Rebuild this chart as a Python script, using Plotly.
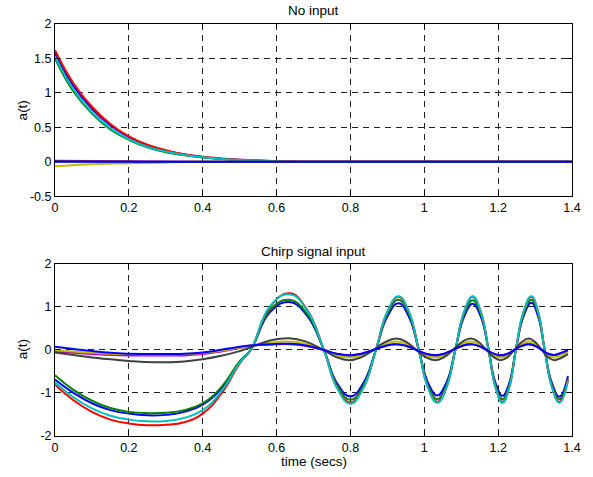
import plotly.graph_objects as go

# ---------------- data: top panel (No input) ----------------
t_top = [0, 0.05, 0.1, 0.15, 0.2, 0.25, 0.3, 0.35, 0.4, 0.45, 0.5, 0.6, 0.7, 1.4]
top_b1 = [1.58, 1.1, 0.77, 0.53, 0.36, 0.24, 0.16, 0.105, 0.07, 0.045, 0.03, 0.01, 0.0, 0.0]
top_g = [1.5, 1.02, 0.7, 0.47, 0.32, 0.21, 0.14, 0.095, 0.062, 0.04, 0.026, 0.01, 0.0, 0.0]
top_r = [1.62, 1.14, 0.8, 0.55, 0.37, 0.25, 0.17, 0.11, 0.075, 0.05, 0.03, 0.01, 0.0, 0.0]
top_c = [1.53, 1.05, 0.72, 0.49, 0.33, 0.22, 0.15, 0.1, 0.065, 0.042, 0.027, 0.01, 0.0, 0.0]

t_top_small = [0, 0.1, 0.2, 0.28, 0.4, 1.4]
top_m = [0.015, 0.012, 0.008, 0.005, 0.0, 0.0]
top_y = [-0.065, -0.035, -0.022, -0.012, 0.0, 0.0]
top_k = [0.008, 0.006, 0.004, 0.002, 0.0, 0.0]
top_b2 = [0.0, 0.0, 0.0, 0.0, 0.0, 0.0]

# ---------------- data: bottom panel (Chirp signal input) ----------------
t_big = [0, 0.05, 0.1, 0.15, 0.2, 0.25, 0.3, 0.35, 0.4, 0.45, 0.5,
         0.53, 0.583, 0.635, 0.682,
         0.728, 0.764, 0.8, 0.835,
         0.869, 0.9, 0.93, 0.958,
         0.985, 1.01, 1.035, 1.06,
         1.084, 1.108, 1.131, 1.153,
         1.174, 1.193, 1.212, 1.23,
         1.248, 1.269, 1.29, 1.308,
         1.326, 1.346, 1.366, 1.389]
bot_b1 = [-0.69, -1.0, -1.24, -1.4, -1.48, -1.52, -1.51, -1.44, -1.27, -0.9, -0.28,
          0.0, 0.88, 1.11, 0.8,
          0.0, -0.78, -1.08, -0.77,
          0.0, 0.77, 1.08, 0.77,
          0.0, -0.76, -1.06, -0.76,
          0.0, 0.77, 1.07, 0.77,
          0.0, -0.77, -1.07, -0.77,
          0.0, 0.78, 1.09, 0.78,
          0.0, -0.78, -1.09, -0.61]
bot_g = [-0.59, -0.93, -1.18, -1.35, -1.44, -1.47, -1.46, -1.4, -1.24, -0.87, -0.27,
         0.0, 0.93, 1.16, 0.84,
         0.0, -0.83, -1.16, -0.83,
         0.0, 0.83, 1.16, 0.83,
         0.0, -0.83, -1.15, -0.83,
         0.0, 0.83, 1.15, 0.83,
         0.0, -0.83, -1.15, -0.83,
         0.0, 0.83, 1.16, 0.83,
         0.0, -0.83, -1.15, -0.66]
bot_r = [-0.81, -1.17, -1.44, -1.62, -1.71, -1.75, -1.74, -1.68, -1.48, -1.02, -0.32,
         0.0, 1.0, 1.31, 0.94,
         0.0, -0.88, -1.22, -0.88,
         0.0, 0.88, 1.23, 0.88,
         0.0, -0.87, -1.21, -0.87,
         0.0, 0.88, 1.23, 0.88,
         0.0, -0.87, -1.21, -0.87,
         0.0, 0.88, 1.23, 0.88,
         0.0, -0.87, -1.21, -0.7]
bot_c = [-0.75, -1.1, -1.36, -1.53, -1.62, -1.66, -1.65, -1.58, -1.4, -0.97, -0.3,
         0.0, 1.02, 1.29, 0.92,
         0.0, -0.89, -1.25, -0.89,
         0.0, 0.89, 1.24, 0.89,
         0.0, -0.88, -1.23, -0.88,
         0.0, 0.89, 1.24, 0.89,
         0.0, -0.88, -1.23, -0.88,
         0.0, 0.89, 1.24, 0.89,
         0.0, -0.88, -1.23, -0.72]

t_small = [0, 0.05, 0.1, 0.15, 0.2, 0.27, 0.35, 0.4, 0.45, 0.5, 0.53,
           0.58, 0.635, 0.68,
           0.726, 0.762, 0.797, 0.83,
           0.863, 0.894, 0.925, 0.952,
           0.978, 1.004, 1.03, 1.054,
           1.078, 1.102, 1.126, 1.147,
           1.168, 1.188, 1.207, 1.226,
           1.244, 1.264, 1.283, 1.3,
           1.318, 1.335, 1.352, 1.37,
           1.389]
bot_m = [-0.04, -0.07, -0.1, -0.12, -0.13, -0.13, -0.13, -0.1, -0.04, 0.04, 0.1,
         0.12, 0.13, 0.09,
         0.0, -0.09, -0.12, -0.09,
         0.0, 0.09, 0.13, 0.09,
         0.0, -0.09, -0.12, -0.09,
         0.0, 0.09, 0.13, 0.09,
         0.0, -0.09, -0.12, -0.09,
         0.0, 0.09, 0.13, 0.09,
         0.0, -0.09, -0.12, -0.08,
         -0.03]
bot_y = [-0.01, -0.04, -0.07, -0.09, -0.1, -0.11, -0.1, -0.07, -0.02, 0.05, 0.1,
         0.16, 0.19, 0.14,
         0.0, -0.13, -0.18, -0.13,
         0.0, 0.13, 0.19, 0.13,
         0.0, -0.13, -0.18, -0.13,
         0.0, 0.13, 0.19, 0.13,
         0.0, -0.13, -0.18, -0.13,
         0.0, 0.13, 0.19, 0.13,
         0.0, -0.13, -0.18, -0.13,
         -0.06]
bot_k = [-0.06, -0.12, -0.18, -0.22, -0.26, -0.29, -0.27, -0.22, -0.14, -0.03, 0.06,
         0.21, 0.27, 0.19,
         0.0, -0.17, -0.24, -0.17,
         0.0, 0.18, 0.26, 0.18,
         0.0, -0.17, -0.24, -0.17,
         0.0, 0.18, 0.26, 0.18,
         0.0, -0.17, -0.24, -0.17,
         0.0, 0.18, 0.26, 0.18,
         0.0, -0.17, -0.24, -0.19,
         -0.1]
bot_b2 = [0.07, 0.02, -0.03, -0.07, -0.09, -0.1, -0.09, -0.06, 0.0, 0.07, 0.1,
          0.13, 0.14, 0.1,
          0.0, -0.09, -0.13, -0.09,
          0.0, 0.09, 0.13, 0.09,
          0.0, -0.09, -0.13, -0.09,
          0.0, 0.09, 0.13, 0.09,
          0.0, -0.09, -0.13, -0.09,
          0.0, 0.09, 0.13, 0.09,
          0.0, -0.09, -0.12, -0.07,
          0.0]

x_ticks = [0, 0.2, 0.4, 0.6, 0.8, 1.0, 1.2, 1.4]
x_tick_text = ["0", "0.2", "0.4", "0.6", "0.8", "1", "1.2", "1.4"]
top_y_ticks = [-0.5, 0, 0.5, 1, 1.5, 2]
top_y_text = ["-0.5", "0", "0.5", "1", "1.5", "2"]
bot_y_ticks = [-2, -1, 0, 1, 2]
bot_y_text = ["-2", "-1", "0", "1", "2"]

# MATLAB default colour order
C_B = "#0000FF"
C_G = "#008000"
C_R = "#FF0000"
C_C = "#00BFBF"
C_M = "#BF00BF"
C_Y = "#BFBF00"
C_K = "#404040"

fig = go.Figure()


def add(x, y, color, ax):
    xa, ya = ("x", "y") if ax == 1 else ("x2", "y2")
    fig.add_trace(go.Scatter(x=x, y=y, mode="lines", xaxis=xa, yaxis=ya,
                             line=dict(color=color, width=2, shape="spline", smoothing=1.3),
                             showlegend=False, hoverinfo="skip"))


# top panel
add(t_top, top_b1, C_B, 1)
add(t_top, top_g, C_G, 1)
add(t_top, top_r, C_R, 1)
add(t_top, top_c, C_C, 1)
add(t_top_small, top_m, C_M, 1)
add(t_top_small, top_y, C_Y, 1)
add(t_top_small, top_k, C_K, 1)
add(t_top_small, top_b2, C_B, 1)

# bottom panel
add(t_big, bot_b1, C_B, 2)
add(t_big, bot_g, C_G, 2)
add(t_big, bot_r, C_R, 2)
add(t_big, bot_c, C_C, 2)
add(t_small, bot_m, C_M, 2)
add(t_small, bot_y, C_Y, 2)
add(t_small, bot_k, C_K, 2)
add(t_small, bot_b2, C_B, 2)

TICK_FONT = 12.5
LABEL_FONT = 13.5

axis_common = dict(showline=True, linecolor="black", linewidth=1, mirror="ticks",
                   ticks="inside", ticklen=5, tickcolor="black", tickwidth=1,
                   showgrid=True, gridcolor="#202020", gridwidth=1, griddash="6px,5px",
                   zeroline=False, tickfont=dict(size=TICK_FONT, color="black"))

fig.update_layout(
    width=593, height=477,
    margin=dict(l=55, r=17, t=24, b=41),
    paper_bgcolor="white", plot_bgcolor="white",
    font=dict(family="Liberation Sans, Arial, sans-serif", size=LABEL_FONT, color="black"),
    xaxis=dict(domain=[0, 1], anchor="y", range=[0, 1.4], tickvals=x_ticks,
               ticktext=x_tick_text, **axis_common),
    yaxis=dict(domain=[0.5818, 1], anchor="x", range=[-0.5, 2], tickvals=top_y_ticks,
               ticktext=top_y_text, **axis_common),
    xaxis2=dict(domain=[0, 1], anchor="y2", range=[0, 1.4], tickvals=x_ticks,
                ticktext=x_tick_text, **axis_common),
    yaxis2=dict(domain=[0, 0.4184], anchor="x2", range=[-2, 2], tickvals=bot_y_ticks,
                ticktext=bot_y_text, **axis_common),
    annotations=[
        dict(text="No input", x=0.5, y=1.0316, xref="paper", yref="paper",
             showarrow=False, xanchor="center", yanchor="middle"),
        dict(text="Chirp signal input", x=0.5, y=0.449, xref="paper", yref="paper",
             showarrow=False, xanchor="center", yanchor="middle"),
        dict(text="time (secs)", x=0.5, y=-0.063, xref="paper", yref="paper",
             showarrow=False, xanchor="center", yanchor="middle"),
        dict(text="a(t)", x=-0.0633, y=0.791, xref="paper", yref="paper", textangle=-90,
             showarrow=False, xanchor="center", yanchor="middle"),
        dict(text="a(t)", x=-0.0633, y=0.211, xref="paper", yref="paper", textangle=-90,
             showarrow=False, xanchor="center", yanchor="middle"),
    ],
)

fig.write_html("out.html", config={"displayModeBar": False},
               post_script="document.body.style.margin='0';document.body.style.overflow='hidden';")
